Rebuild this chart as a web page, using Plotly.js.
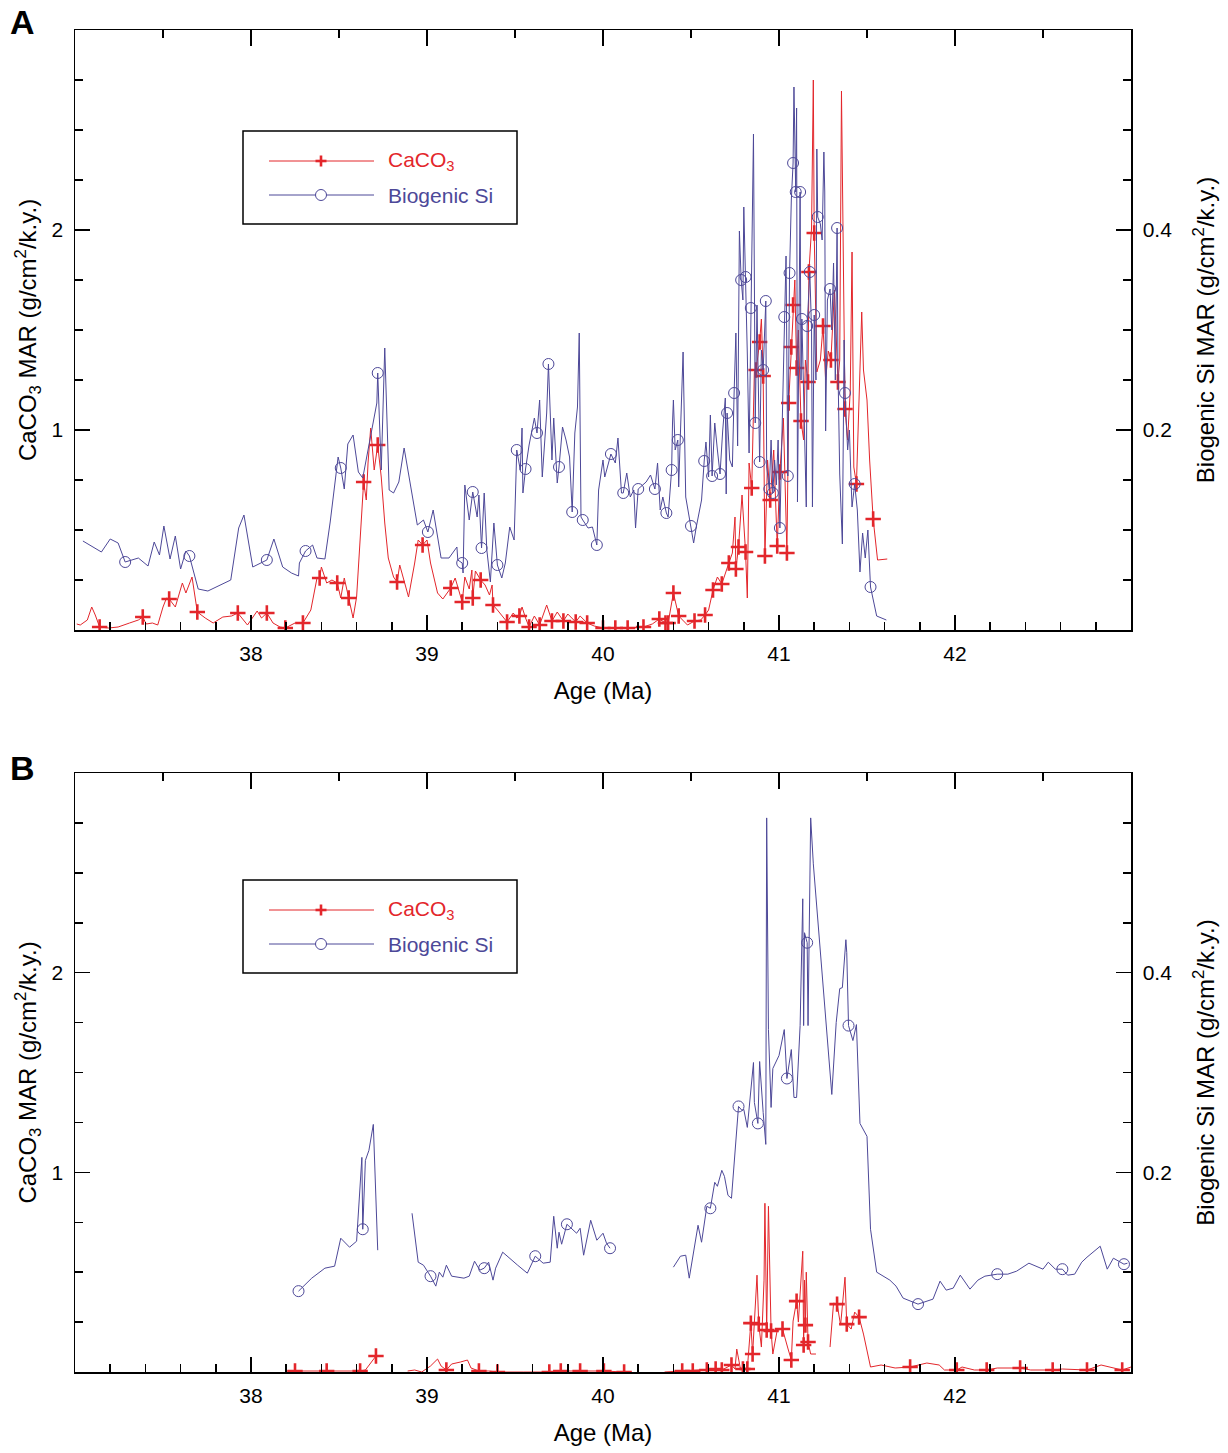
<!DOCTYPE html>
<html><head><meta charset="utf-8">
<script src="https://cdn.plot.ly/plotly-3.0.1.min.js"></script>
<style>body{margin:0;background:#fff}#chart{width:1228px;height:1453px}</style>
</head><body><div id="chart"></div>
<script>
// ---------- DATA (age in Ma, value) ----------
// Panel A, CaCO3 MAR (g/cm2/k.y.)
const caco3A = [[37.01,0.03],[37.03,0.025],[37.07,0.05],[37.095,0.115],[37.115,0.075],[37.14,0.015],[37.19,0.01],[37.245,0.015],[37.31,0.035],[37.36,0.05],[37.385,0.065],[37.405,0.03],[37.44,0.035],[37.47,0.025],[37.5,0.115],[37.52,0.16],[37.535,0.155],[37.57,0.115],[37.61,0.235],[37.63,0.185],[37.665,0.265],[37.695,0.09],[37.74,0.06],[37.785,0.035],[37.84,0.065],[37.89,0.07],[37.925,0.085],[37.96,0.05],[37.98,0.025],[38.035,0.095],[38.06,0.06],[38.09,0.085],[38.125,0.035],[38.165,0.015],[38.195,0.01],[38.25,0.035],[38.295,0.035],[38.34,0.10],[38.375,0.26],[38.39,0.26],[38.40,0.315],[38.43,0.235],[38.46,0.25],[38.49,0.235],[38.51,0.16],[38.53,0.26],[38.555,0.16],[38.58,0.06],[38.60,0.165],[38.62,0.465],[38.64,0.74],[38.655,0.65],[38.665,0.835],[38.68,1.01],[38.70,0.80],[38.72,0.925],[38.74,0.765],[38.76,0.535],[38.78,0.36],[38.81,0.265],[38.83,0.24],[38.845,0.325],[38.87,0.245],[38.895,0.165],[38.93,0.335],[38.95,0.45],[38.975,0.425],[39.0,0.45],[39.02,0.335],[39.06,0.185],[39.09,0.155],[39.135,0.21],[39.16,0.26],[39.2,0.14],[39.215,0.265],[39.24,0.205],[39.255,0.30],[39.26,0.16],[39.275,0.295],[39.305,0.25],[39.33,0.225],[39.355,0.175],[39.37,0.225],[39.375,0.125],[39.40,0.10],[39.425,0.075],[39.455,0.04],[39.49,0.085],[39.51,0.06],[39.525,0.07],[39.54,0.115],[39.56,0.06],[39.58,0.015],[39.61,0.07],[39.64,0.025],[39.68,0.125],[39.71,0.045],[39.74,0.09],[39.775,0.045],[39.80,0.08],[39.845,0.04],[39.87,0.07],[39.91,0.035],[39.95,0.02],[40.0,0.01],[40.07,0.01],[40.14,0.01],[40.23,0.015],[40.28,0.03],[40.32,0.055],[40.355,0.035],[40.37,0.035],[40.40,0.185],[40.43,0.07],[40.48,0.025],[40.52,0.045],[40.555,0.05],[40.58,0.075],[40.60,0.10],[40.625,0.20],[40.65,0.265],[40.675,0.23],[40.70,0.30],[40.715,0.335],[40.735,0.385],[40.75,0.565],[40.755,0.305],[40.77,0.415],[40.79,0.675],[40.81,0.39],[40.82,0.16],[40.83,0.835],[40.845,0.71],[40.86,1.29],[40.87,1.30],[40.89,1.44],[40.90,1.555],[40.91,1.27],[40.92,0.37],[40.935,0.85],[40.95,0.65],[40.97,0.90],[40.99,0.42],[41.005,0.79],[41.025,1.06],[41.045,0.385],[41.055,1.135],[41.07,1.415],[41.08,1.625],[41.09,1.75],[41.10,1.31],[41.11,1.5],[41.125,1.045],[41.14,0.95],[41.15,1.35],[41.165,1.24],[41.17,1.79],[41.185,2.01],[41.195,2.75],[41.20,1.985],[41.215,1.29],[41.235,1.35],[41.25,1.52],[41.265,1.25],[41.28,1.395],[41.295,1.35],[41.315,1.70],[41.335,1.24],[41.345,1.35],[41.355,2.695],[41.375,1.105],[41.39,0.95],[41.405,1.20],[41.415,1.89],[41.425,0.815],[41.44,0.73],[41.47,1.59],[41.48,1.30],[41.5,1.15],[41.515,0.85],[41.535,0.555],[41.56,0.35],[41.615,0.355]];
const caco3A_marks = [[37.14,0.015],[37.385,0.065],[37.535,0.155],[37.695,0.09],[37.925,0.085],[38.09,0.085],[38.195,0.01],[38.295,0.035],[38.39,0.26],[38.49,0.235],[38.555,0.16],[38.64,0.74],[38.72,0.925],[38.83,0.24],[38.975,0.425],[39.135,0.21],[39.2,0.14],[39.26,0.16],[39.305,0.25],[39.375,0.125],[39.455,0.04],[39.525,0.07],[39.58,0.015],[39.64,0.025],[39.71,0.045],[39.775,0.045],[39.845,0.04],[39.91,0.035],[40.0,0.01],[40.07,0.01],[40.14,0.01],[40.23,0.015],[40.32,0.055],[40.355,0.035],[40.37,0.035],[40.40,0.185],[40.43,0.07],[40.52,0.045],[40.58,0.075],[40.625,0.20],[40.675,0.23],[40.715,0.335],[40.755,0.305],[40.77,0.415],[40.81,0.39],[40.845,0.71],[40.87,1.30],[40.89,1.44],[40.91,1.27],[40.92,0.37],[40.95,0.65],[40.99,0.42],[41.005,0.79],[41.045,0.385],[41.055,1.135],[41.07,1.415],[41.08,1.625],[41.10,1.31],[41.125,1.045],[41.165,1.24],[41.17,1.79],[41.20,1.985],[41.25,1.52],[41.295,1.35],[41.335,1.24],[41.375,1.105],[41.44,0.73],[41.535,0.555]];
// Panel A, Biogenic Si MAR (g/cm2/k.y.)
const siA = [[37.045,0.089],[37.15,0.078],[37.20,0.091],[37.245,0.087],[37.285,0.068],[37.36,0.072],[37.415,0.064],[37.45,0.088],[37.48,0.075],[37.505,0.104],[37.54,0.071],[37.57,0.094],[37.60,0.061],[37.63,0.079],[37.65,0.074],[37.70,0.041],[37.755,0.039],[37.885,0.050],[37.93,0.102],[37.96,0.115],[38.01,0.063],[38.09,0.070],[38.13,0.091],[38.18,0.063],[38.23,0.057],[38.27,0.054],[38.275,0.067],[38.31,0.079],[38.35,0.085],[38.375,0.072],[38.42,0.071],[38.45,0.108],[38.495,0.173],[38.51,0.162],[38.53,0.141],[38.55,0.186],[38.58,0.195],[38.61,0.158],[38.635,0.152],[38.675,0.190],[38.715,0.227],[38.72,0.257],[38.74,0.160],[38.76,0.282],[38.785,0.140],[38.81,0.137],[38.84,0.148],[38.87,0.182],[38.945,0.105],[38.98,0.110],[39.005,0.098],[39.035,0.120],[39.08,0.072],[39.125,0.072],[39.17,0.083],[39.175,0.070],[39.2,0.067],[39.205,0.057],[39.215,0.145],[39.24,0.110],[39.26,0.138],[39.285,0.113],[39.295,0.135],[39.31,0.082],[39.325,0.137],[39.34,0.080],[39.36,0.048],[39.38,0.107],[39.40,0.065],[39.425,0.052],[39.445,0.067],[39.47,0.103],[39.495,0.090],[39.51,0.180],[39.53,0.160],[39.54,0.202],[39.545,0.137],[39.56,0.161],[39.58,0.185],[39.61,0.212],[39.625,0.197],[39.64,0.230],[39.655,0.153],[39.68,0.217],[39.69,0.266],[39.71,0.170],[39.72,0.212],[39.74,0.147],[39.75,0.163],[39.77,0.203],[39.79,0.190],[39.81,0.173],[39.825,0.118],[39.84,0.197],[39.855,0.223],[39.865,0.297],[39.875,0.113],[39.885,0.110],[39.915,0.102],[39.94,0.103],[39.965,0.085],[39.975,0.140],[40.0,0.170],[40.01,0.153],[40.03,0.167],[40.045,0.176],[40.07,0.167],[40.085,0.192],[40.105,0.137],[40.115,0.137],[40.135,0.157],[40.155,0.133],[40.175,0.140],[40.185,0.102],[40.2,0.141],[40.245,0.148],[40.27,0.155],[40.295,0.141],[40.31,0.167],[40.325,0.120],[40.34,0.133],[40.36,0.117],[40.37,0.113],[40.38,0.140],[40.39,0.160],[40.395,0.207],[40.40,0.230],[40.41,0.180],[40.425,0.190],[40.43,0.143],[40.455,0.278],[40.47,0.133],[40.50,0.104],[40.515,0.087],[40.53,0.103],[40.56,0.130],[40.575,0.169],[40.585,0.188],[40.60,0.153],[40.61,0.215],[40.62,0.154],[40.635,0.207],[40.65,0.180],[40.665,0.156],[40.68,0.199],[40.695,0.232],[40.70,0.136],[40.705,0.217],[40.72,0.170],[40.735,0.163],[40.745,0.237],[40.755,0.297],[40.765,0.184],[40.775,0.399],[40.785,0.350],[40.795,0.330],[40.80,0.423],[40.81,0.353],[40.82,0.276],[40.83,0.177],[40.84,0.322],[40.855,0.496],[40.865,0.207],[40.875,0.325],[40.89,0.168],[40.90,0.280],[40.91,0.260],[40.925,0.329],[40.93,0.163],[40.945,0.141],[40.955,0.190],[40.965,0.137],[40.975,0.170],[40.985,0.145],[40.995,0.190],[41.005,0.102],[41.015,0.181],[41.03,0.313],[41.04,0.374],[41.05,0.154],[41.06,0.357],[41.07,0.430],[41.08,0.467],[41.085,0.543],[41.095,0.438],[41.10,0.522],[41.105,0.128],[41.12,0.438],[41.125,0.250],[41.13,0.311],[41.145,0.190],[41.155,0.123],[41.16,0.304],[41.175,0.358],[41.185,0.300],[41.19,0.123],[41.20,0.315],[41.21,0.250],[41.215,0.481],[41.22,0.413],[41.235,0.406],[41.245,0.390],[41.255,0.478],[41.26,0.438],[41.265,0.199],[41.275,0.330],[41.29,0.341],[41.30,0.300],[41.31,0.367],[41.32,0.250],[41.33,0.402],[41.335,0.262],[41.345,0.156],[41.36,0.086],[41.37,0.290],[41.375,0.237],[41.39,0.180],[41.40,0.200],[41.41,0.146],[41.415,0.123],[41.43,0.146],[41.445,0.120],[41.46,0.058],[41.475,0.097],[41.49,0.072],[41.505,0.100],[41.52,0.043],[41.555,0.014],[41.61,0.010]];
const siA_marks = [[37.285,0.068],[37.65,0.074],[38.09,0.070],[38.31,0.079],[38.51,0.162],[38.72,0.257],[39.005,0.098],[39.2,0.067],[39.26,0.138],[39.31,0.082],[39.40,0.065],[39.51,0.180],[39.56,0.161],[39.625,0.197],[39.69,0.266],[39.75,0.163],[39.825,0.118],[39.885,0.110],[39.965,0.085],[40.045,0.176],[40.115,0.137],[40.2,0.141],[40.295,0.141],[40.36,0.117],[40.39,0.160],[40.425,0.190],[40.50,0.104],[40.575,0.169],[40.62,0.154],[40.665,0.156],[40.705,0.217],[40.745,0.237],[40.785,0.350],[40.81,0.353],[40.84,0.322],[40.865,0.207],[40.89,0.168],[40.91,0.260],[40.925,0.329],[40.945,0.141],[40.965,0.137],[41.005,0.102],[41.03,0.313],[41.05,0.154],[41.06,0.357],[41.08,0.467],[41.095,0.438],[41.12,0.438],[41.13,0.311],[41.16,0.304],[41.175,0.358],[41.20,0.315],[41.22,0.413],[41.29,0.341],[41.33,0.402],[41.375,0.237],[41.43,0.146],[41.52,0.043]];
// Panel B, CaCO3 MAR
const caco3B = [[38.20,0.005],[38.25,0.005],[38.35,0.005],[38.43,0.005],[38.52,0.005],[38.62,0.005],[38.65,0.01],[38.70,0.065],[38.71,0.08],[null,null],[38.89,0.005],[38.93,0.01],[38.97,0.0],[39.02,0.03],[39.06,0.065],[39.08,0.03],[39.11,0.01],[39.14,0.04],[39.19,0.05],[39.23,0.06],[39.25,0.02],[39.295,0.005],[39.35,0.005],[39.40,0.0],[39.55,0.0],[39.695,0.0],[39.76,0.005],[39.87,0.005],[40.005,0.005],[40.12,0.0],[null,null],[40.35,0.0],[40.45,0.005],[40.51,0.005],[40.59,0.01],[40.64,0.015],[40.675,0.01],[40.70,0.02],[40.73,0.035],[40.75,0.015],[40.76,0.115],[40.78,0.02],[40.795,0.015],[40.82,0.015],[40.84,0.245],[40.85,0.09],[40.86,0.28],[40.875,0.485],[40.885,0.24],[40.90,0.125],[40.915,0.46],[40.92,0.845],[40.93,0.21],[40.94,0.83],[40.955,0.205],[40.965,0.09],[40.99,0.21],[41.02,0.215],[41.05,0.12],[41.07,0.06],[41.08,0.255],[41.10,0.355],[41.11,0.25],[41.135,0.605],[41.14,0.135],[41.145,0.46],[41.15,0.235],[41.155,0.50],[41.165,0.15],[41.18,0.09],[41.21,0.09],[null,null],[41.29,0.125],[41.31,0.345],[41.33,0.34],[41.35,0.235],[41.375,0.475],[41.385,0.24],[41.41,0.215],[41.43,0.30],[41.455,0.275],[41.48,0.19],[41.52,0.025],[41.58,0.035],[41.66,0.02],[41.745,0.025],[41.84,0.045],[41.91,0.035],[41.94,0.01],[42.01,0.01],[42.04,0.025],[42.11,0.01],[42.18,0.01],[42.24,0.02],[42.37,0.02],[42.43,0.01],[42.555,0.01],[42.61,0.015],[42.75,0.01],[42.83,0.035],[42.95,0.01],[43.0,0.025]];
const caco3B_marks = [[38.25,0.005],[38.43,0.005],[38.62,0.005],[38.71,0.08],[39.11,0.01],[39.295,0.005],[39.40,0.0],[39.695,0.0],[39.76,0.005],[39.87,0.005],[40.005,0.005],[40.12,0.0],[40.45,0.005],[40.51,0.005],[40.59,0.01],[40.64,0.015],[40.675,0.01],[40.73,0.035],[40.795,0.015],[40.82,0.015],[40.84,0.245],[40.85,0.09],[40.885,0.24],[40.93,0.21],[40.955,0.205],[41.02,0.215],[41.07,0.06],[41.10,0.355],[41.14,0.135],[41.15,0.235],[41.165,0.15],[41.33,0.34],[41.385,0.24],[41.455,0.275],[41.745,0.025],[42.01,0.01],[42.18,0.01],[42.37,0.02],[42.555,0.01],[42.75,0.01],[42.95,0.01]];
// Panel B, Biogenic Si MAR
const siB = [[38.27,0.081],[38.345,0.094],[38.42,0.104],[38.475,0.106],[38.51,0.134],[38.56,0.125],[38.60,0.131],[38.63,0.215],[38.635,0.143],[38.65,0.212],[38.67,0.222],[38.695,0.248],[38.72,0.122],[null,null],[38.915,0.159],[38.95,0.110],[38.98,0.107],[39.02,0.096],[39.05,0.086],[39.07,0.100],[39.09,0.095],[39.11,0.107],[39.14,0.096],[39.21,0.094],[39.24,0.096],[39.27,0.111],[39.30,0.102],[39.325,0.104],[39.35,0.110],[39.375,0.092],[39.39,0.104],[39.43,0.120],[39.515,0.107],[39.57,0.099],[39.615,0.116],[39.66,0.109],[39.70,0.110],[39.72,0.156],[39.74,0.124],[39.75,0.140],[39.765,0.128],[39.795,0.148],[39.85,0.139],[39.87,0.144],[39.89,0.117],[39.93,0.152],[39.965,0.132],[40.0,0.139],[40.02,0.129],[40.04,0.124],[null,null],[40.40,0.105],[40.44,0.116],[40.47,0.117],[40.49,0.094],[40.54,0.147],[40.56,0.130],[40.59,0.166],[40.61,0.164],[40.635,0.190],[40.65,0.186],[40.675,0.202],[40.69,0.196],[40.71,0.177],[40.73,0.174],[40.77,0.266],[40.79,0.262],[40.80,0.263],[40.82,0.245],[40.855,0.310],[40.86,0.270],[40.88,0.249],[40.89,0.311],[40.91,0.260],[40.925,0.228],[40.93,0.555],[40.94,0.343],[40.955,0.265],[40.965,0.304],[41.0,0.317],[41.03,0.343],[41.045,0.294],[41.07,0.323],[41.085,0.275],[41.10,0.275],[41.12,0.347],[41.135,0.474],[41.14,0.347],[41.145,0.440],[41.16,0.430],[41.165,0.347],[41.18,0.555],[41.195,0.509],[41.30,0.278],[41.325,0.350],[41.345,0.384],[41.36,0.385],[41.38,0.433],[41.385,0.420],[41.395,0.347],[41.42,0.332],[41.44,0.348],[41.46,0.249],[41.50,0.236],[41.52,0.143],[41.555,0.100],[41.63,0.092],[41.665,0.086],[41.705,0.074],[41.79,0.068],[41.875,0.073],[41.915,0.091],[41.95,0.082],[41.99,0.084],[42.03,0.097],[42.085,0.083],[42.13,0.092],[42.17,0.096],[42.24,0.098],[42.30,0.098],[42.35,0.101],[42.42,0.109],[42.50,0.103],[42.53,0.110],[42.57,0.103],[42.61,0.103],[42.64,0.097],[42.68,0.098],[42.72,0.110],[42.75,0.115],[42.825,0.126],[42.865,0.103],[42.90,0.114],[42.96,0.108],[42.98,0.109]];
const siB_marks = [[38.27,0.081],[38.635,0.143],[39.02,0.096],[39.325,0.104],[39.615,0.116],[39.795,0.148],[40.04,0.124],[40.61,0.164],[40.77,0.266],[40.88,0.249],[41.045,0.294],[41.16,0.430],[41.395,0.347],[41.79,0.068],[42.24,0.098],[42.61,0.103],[42.96,0.108]];

const ageTicks = [38, 39, 40, 41, 42];
const caco3Ticks = [1, 2];
const siTicks = [0.2, 0.4], siTickText = ['0.2', '0.4'];
const seriesNames = ['CaCO<sub>3</sub>', 'Biogenic Si'];
const panelLabels = ['A', 'B'];

// ---------- STYLE ----------
const RED = '#e3262b', BLUE = '#4d4898';
const FONT = 'Liberation Sans, Arial, Helvetica, sans-serif';
const xs = a => a.map(p => p[0]), ys = a => a.map(p => p[1]);

function lineTrace(d, xa, ya, color) {
  return {x: xs(d), y: ys(d), xaxis: xa, yaxis: ya, type: 'scatter', mode: 'lines',
    line: {color: color, width: 1}, showlegend: false, hoverinfo: 'skip', connectgaps: false};
}
function crossTrace(d, xa, ya) {
  return {x: xs(d), y: ys(d), xaxis: xa, yaxis: ya, type: 'scatter', mode: 'markers',
    marker: {symbol: 'cross-thin', size: 11, color: RED, line: {color: RED, width: 2.6}},
    showlegend: false, hoverinfo: 'skip'};
}
function circleTrace(d, xa, ya) {
  return {x: xs(d), y: ys(d), xaxis: xa, yaxis: ya, type: 'scatter', mode: 'markers',
    marker: {symbol: 'circle-open', size: 11, color: BLUE, line: {color: BLUE, width: 1}},
    showlegend: false, hoverinfo: 'skip'};
}
function axisHolder(xa, ya) { // empty trace so the top frame axis gets drawn
  return {x: [null], y: [null], xaxis: xa, yaxis: ya, type: 'scatter', mode: 'lines', showlegend: false, hoverinfo: 'skip'};
}

const data = [
  lineTrace(siA, 'x', 'y2', BLUE),
  lineTrace(caco3A, 'x', 'y', RED),
  circleTrace(siA_marks, 'x', 'y2'),
  crossTrace(caco3A_marks, 'x', 'y'),
  axisHolder('x3', 'y'),
  lineTrace(siB, 'x2', 'y4', BLUE),
  lineTrace(caco3B, 'x2', 'y3', RED),
  circleTrace(siB_marks, 'x2', 'y4'),
  crossTrace(caco3B_marks, 'x2', 'y3'),
  axisHolder('x4', 'y3')
];

const tickFont = {family: FONT, size: 21, color: '#000'};
const titleFont = {family: FONT, size: 24, color: '#000'};
const common = {showgrid: false, zeroline: false, showline: true, linecolor: '#000', linewidth: 1.5,
  ticks: 'inside', ticklen: 15, tickwidth: 1.5, tickcolor: '#000', tickfont: tickFont, fixedrange: true};

function xAxis(anchor) {
  return Object.assign({}, common, {anchor: anchor, range: [37, 43], tickmode: 'array', tickvals: ageTicks,
    ticktext: ageTicks.map(String), ticklabelstandoff: 4,
    minor: {tick0: 37, dtick: 0.2, ticks: 'inside', ticklen: 8, tickwidth: 1.5, tickcolor: '#000', showgrid: false},
    title: {text: 'Age (Ma)', font: titleFont, standoff: 18}});
}
function topAxis(over, anchor) {
  return Object.assign({}, common, {overlaying: over, anchor: anchor, side: 'top', range: [37, 43],
    tickmode: 'array', tickvals: ageTicks, showticklabels: false, ticklen: 16,
    minor: {tick0: 37, dtick: 0.5, ticks: 'inside', ticklen: 8, tickwidth: 1.5, tickcolor: '#000', showgrid: false}});
}
function leftAxis(anchor, domain) {
  return Object.assign({}, common, {anchor: anchor, domain: domain, range: [0, 3], tickmode: 'array',
    tickvals: caco3Ticks, ticktext: caco3Ticks.map(String), ticklabelstandoff: 6,
    minor: {tick0: 0, dtick: 0.25, ticks: 'inside', ticklen: 8, tickwidth: 1.5, tickcolor: '#000', showgrid: false},
    title: {text: 'CaCO<sub>3</sub> MAR (g/cm<sup>2</sup>/k.y.)', font: titleFont, standoff: 8}});
}
function rightAxis(over, anchor) {
  return Object.assign({}, common, {overlaying: over, anchor: anchor, side: 'right', range: [0, 0.6],
    tickmode: 'array', tickvals: siTicks, ticktext: siTickText, ticklabelstandoff: 6,
    minor: {tick0: 0, dtick: 0.05, ticks: 'inside', ticklen: 8, tickwidth: 1.5, tickcolor: '#000', showgrid: false},
    title: {text: 'Biogenic Si MAR (g/cm<sup>2</sup>/k.y.)', font: titleFont, standoff: 26}});
}

const H = 1342, W = 1056; // plot-area size in px
const domA = [1 - 600 / H, 1], domB = [0, 599 / H];
const PX = x => (x - 75) / W, PY = y => 1 - (y - 30) / H;   // page px -> paper coords

// hand-drawn legend boxes (legend only, no data)
function legendShapes(top) {
  const r1 = top + 30, r2 = top + 64, s = [];
  s.push({type: 'rect', xref: 'paper', yref: 'paper', x0: PX(243), x1: PX(517), y0: PY(top), y1: PY(top + 93),
          line: {color: '#000', width: 1.5}, fillcolor: '#fff', layer: 'above'});
  s.push({type: 'line', xref: 'paper', yref: 'paper', x0: PX(269), x1: PX(374), y0: PY(r1), y1: PY(r1), line: {color: RED, width: 1}});
  s.push({type: 'line', xref: 'paper', yref: 'paper', x0: PX(315.5), x1: PX(326.5), y0: PY(r1), y1: PY(r1), line: {color: RED, width: 2.6}});
  s.push({type: 'line', xref: 'paper', yref: 'paper', x0: PX(321), x1: PX(321), y0: PY(r1 - 5.5), y1: PY(r1 + 5.5), line: {color: RED, width: 2.6}});
  s.push({type: 'line', xref: 'paper', yref: 'paper', x0: PX(269), x1: PX(374), y0: PY(r2), y1: PY(r2), line: {color: BLUE, width: 1}});
  s.push({type: 'circle', xref: 'paper', yref: 'paper', x0: PX(315.5), x1: PX(326.5), y0: PY(r2 - 5.5), y1: PY(r2 + 5.5),
          line: {color: BLUE, width: 1}, fillcolor: '#fff'});
  return s;
}
function legendTexts(top) {
  return [
    {text: seriesNames[0], xref: 'paper', yref: 'paper', x: PX(386), y: PY(top + 30), xanchor: 'left', yanchor: 'middle',
     showarrow: false, font: {family: FONT, size: 21, color: '#e3262b'}},
    {text: seriesNames[1], xref: 'paper', yref: 'paper', x: PX(386), y: PY(top + 64), xanchor: 'left', yanchor: 'middle',
     showarrow: false, font: {family: FONT, size: 21, color: '#4d4898'}}
  ];
}

const layout = {
  width: 1228, height: 1453, margin: {l: 75, r: 97, t: 30, b: 81},
  paper_bgcolor: '#fff', plot_bgcolor: '#fff', showlegend: false,
  font: {family: FONT, color: '#000'},
  xaxis: xAxis('y'),
  yaxis: leftAxis('x', domA),
  yaxis2: rightAxis('y', 'x'),
  xaxis2: xAxis('y3'),
  yaxis3: leftAxis('x2', domB),
  yaxis4: rightAxis('y3', 'x2'),
  xaxis3: topAxis('x', 'y'),
  xaxis4: topAxis('x2', 'y3'),
  shapes: legendShapes(131).concat(legendShapes(880)),
  annotations: legendTexts(131).concat(legendTexts(880)).concat([
    {text: '<b>' + panelLabels[0] + '</b>', xref: 'paper', yref: 'paper', x: PX(22), y: PY(22),
     xanchor: 'center', yanchor: 'middle', showarrow: false, font: {family: FONT, size: 34, color: '#000'}},
    {text: '<b>' + panelLabels[1] + '</b>', xref: 'paper', yref: 'paper', x: PX(22), y: PY(768),
     xanchor: 'center', yanchor: 'middle', showarrow: false, font: {family: FONT, size: 34, color: '#000'}}
  ])
};

Plotly.newPlot('chart', data, layout, {displayModeBar: false, staticPlot: true});
</script></body></html>
